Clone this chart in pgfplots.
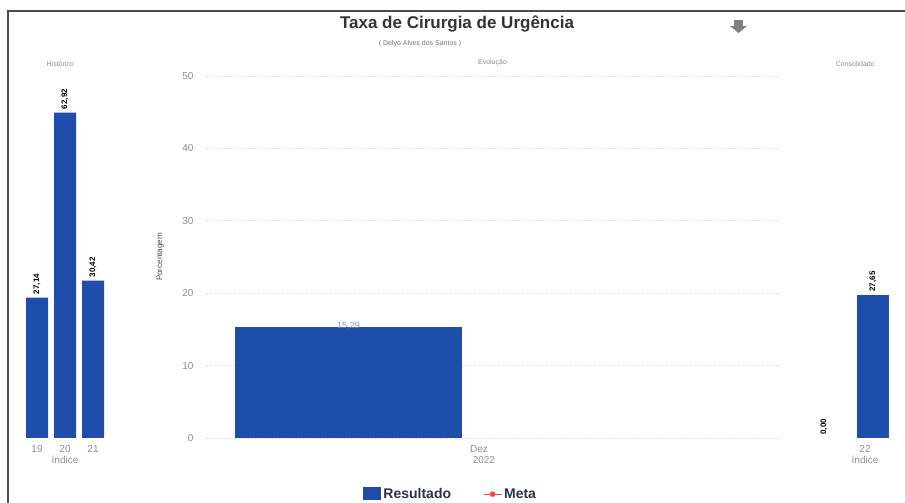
\documentclass[border=0pt]{standalone}
\usepackage{pgfplots}
\pgfplotsset{compat=1.18}
\usepackage{fontspec}
\setmainfont{Liberation Sans}
\definecolor{barblue}{RGB}{31,78,170}
\definecolor{ticktext}{RGB}{140,140,140}
\definecolor{navy}{RGB}{40,50,85}
\begin{document}
\begin{tikzpicture}[x=1pt,y=1pt]
\useasboundingbox (0,0) rectangle (905,503);
% frame of the scanned panel
\draw[black!70, line width=1.2pt] (8,0) -- (8,492) -- (905,492);
\node[font=\bfseries\fontsize{17}{17}\selectfont, text=black!80] at (457,479) {Taxa de Cirurgia de Urgência};
\node[font=\fontsize{7}{7}\selectfont, text=black!55] at (420,459) {( Delyo Alves dos Santos )};
% download icon
\fill[black!50] (734,477) rectangle (743,483);
\fill[black!50] (730,477) -- (747,477) -- (738.5,470) -- cycle;

\pgfplotsset{
  panel/.style={
    scale only axis, height=362pt, ymin=0,
    axis line style={draw=none}, tick style={draw=none},
    ticklabel style={font=\fontsize{10}{10}\selectfont, text=ticktext},
    /pgf/number format/assume math mode=true,
    xticklabel style={yshift=-4pt},
    label style={font=\fontsize{10}{10}\selectfont, text=ticktext},
    title style={font=\fontsize{7}{7}\selectfont, text=ticktext, anchor=south, yshift=0pt},
    clip=false,
  },
  vals/.style={
    nodes near coords,
    every node near coord/.append style={rotate=90, anchor=west, black,
      font=\bfseries\fontsize{8}{8}\selectfont,
      /pgf/number format/fixed, /pgf/number format/fixed zerofill,
      /pgf/number format/precision=2, /pgf/number format/use comma},
  },
}

% Historico
\begin{axis}[panel, at={(18pt,65pt)}, width=94pt, ymax=70,
  xmin=0, xmax=94, ytick=\empty,
  xtick={19,47,75}, xticklabels={19,20,21},
  xlabel={índice}, xlabel style={yshift=3pt},
  title={Histórico}, title style={at={(axis description cs:0.45,1)}}]
\addplot[ybar, bar width=22, fill=barblue, draw=none, vals] coordinates {
  (19,27.14) (47,62.92) (75,30.42)};
\end{axis}

% Evolucao
\begin{axis}[panel, at={(205pt,65pt)}, width=575pt, ymax=50,
  xmin=0, xmax=575, ytick={0,10,20,30,40,50},
  ymajorgrids, grid style={black!15, dotted, line width=0.8pt},
  yticklabel style={xshift=-8pt},
  xtick={274}, xticklabels={Dez},
  xlabel={2022}, xlabel style={at={(ticklabel cs:0.485)}, yshift=3pt},
  ylabel={Porcentagem}, ylabel style={at={(axis description cs:-0.078,0.5)}, anchor=center, text=black!70, font=\fontsize{8}{8}\selectfont},
  title={Evolução}, title style={at={(axis description cs:0.5,1)}},
  legend style={at={(axis description cs:0.27,-0.155)}, anchor=west, draw=none,
    font=\bfseries\fontsize{14}{14}\selectfont, text=navy, legend columns=2,
    /tikz/every even column/.append style={column sep=30pt}},
  ]
\addplot[ybar, bar width=227, fill=barblue, draw=none,
  nodes near coords, every node near coord/.append style={anchor=south, yshift=-6pt,
    text=barblue!60, font=\fontsize{9}{9}\selectfont,
    /pgf/number format/fixed, /pgf/number format/fixed zerofill,
    /pgf/number format/precision=2, /pgf/number format/use comma},
  legend image code/.code={\fill[barblue] (0pt,-6pt) rectangle (18pt,7pt);}]
  coordinates {(143.5,15.29)};
\addlegendentry{Resultado}
\addlegendimage{legend image code/.code={
  \draw[red!75, line width=1pt] (0pt,0pt) -- (18pt,0pt);
  \fill[red!75] (9pt,0pt) circle (2.5pt);}}
\addlegendentry{Meta}
\end{axis}

% Consolidado
\begin{axis}[panel, at={(800pt,65pt)}, width=97pt, ymax=70,
  xmin=0, xmax=97, ytick=\empty,
  xtick={65}, xticklabels={22},
  xlabel={índice}, xlabel style={at={(ticklabel cs:0.67)}, yshift=3pt},
  title={Consolidado}, title style={at={(axis description cs:0.57,1)}}]
\addplot[ybar, bar width=4, fill=none, draw=none, vals] coordinates {(24,0)};
\addplot[ybar, bar width=32, fill=barblue, draw=none, vals] coordinates {(73,27.65)};
\end{axis}
\end{tikzpicture}
\end{document}
